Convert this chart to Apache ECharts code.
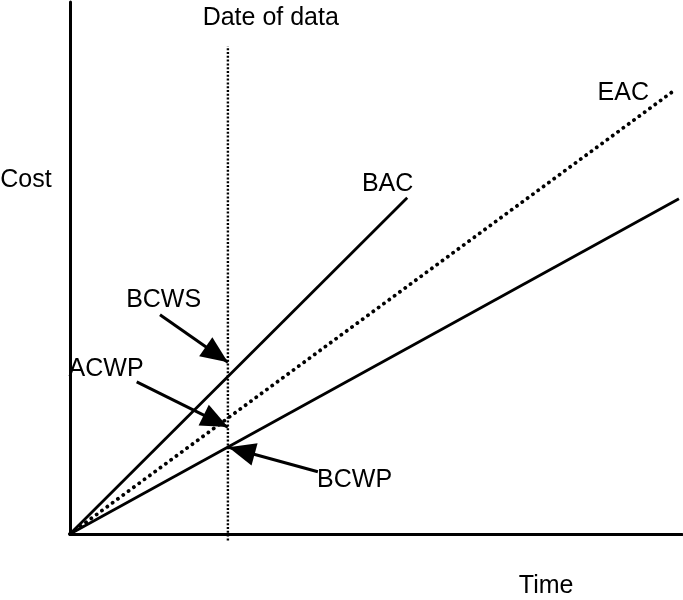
<!DOCTYPE html>
<html>
<head>
<meta charset="utf-8">
<script src="https://cdn.jsdelivr.net/npm/echarts@6/dist/echarts.min.js"></script>
<style>html,body{margin:0;padding:0;background:#fff}#c{width:683px;height:600px}</style>
</head>
<body>
<div id="c"></div>
<script>
// Lines from origin: [time, cost]
const bacLine = [[0, 0], [55.1, 63.2]];
const eacLine = [[0, 0], [99.0, 83.6]];
const bcwpLine = [[0, 0], [99.5, 63.0]];
const dateLine = [[25.8, -1.2], [25.8, 91.7]];
// Arrows: [tail, tip]
const arrowBCWS = [[14.7, 41.2], [25.8, 32.3]];
const arrowACWP = [[10.9, 28.6], [25.8, 20.1]];
const arrowBCWP = [[40.5, 11.7], [25.9, 16.3]];
const arrows = [arrowBCWS, arrowACWP, arrowBCWP];
// Text labels: [x, y, text]
const labels = [
  [32.8, 97.0, 'Date of data'],
  [-7.2, 66.5, 'Cost'],
  [77.8, -9.8, 'Time'],
  [51.9, 65.8, 'BAC'],
  [90.4, 82.9, 'EAC'],
  [15.3, 44.0, 'BCWS'],
  [5.9, 31.0, 'ACWP'],
  [46.5, 10.2, 'BCWP']
];

const FONT = "'Liberation Sans Narrow','Arial Narrow','Liberation Sans',sans-serif";
const HEAD = [23, 27];

const chart = echarts.init(document.getElementById('c'));
function build(headData) {
  return {
    animation: false,
    grid: {left: 70, right: 1, top: 2, bottom: 66},
    xAxis: {type: 'value', min: 0, max: 100,
      axisLine: {show: true, onZero: false, lineStyle: {color: '#000', width: 3}},
      axisTick: {show: false}, axisLabel: {show: false}, splitLine: {show: false}},
    yAxis: {type: 'value', min: 0, max: 100,
      axisLine: {show: true, onZero: false, lineStyle: {color: '#000', width: 3}},
      axisTick: {show: false}, axisLabel: {show: false}, splitLine: {show: false}},
    series: [
      {type: 'line', data: bacLine, symbol: 'none', clip: false,
        lineStyle: {color: '#000', width: 2.8}},
      {type: 'line', data: eacLine, symbol: 'none', clip: false,
        lineStyle: {color: '#000', width: 3.8, type: [0.1, 6.5], cap: 'round'}},
      {type: 'line', data: bcwpLine, symbol: 'none', clip: false,
        lineStyle: {color: '#000', width: 2.8}},
      {type: 'line', data: dateLine, symbol: 'none', clip: false,
        lineStyle: {color: '#000', width: 2.4, type: [2, 1.8]}},
      {type: 'lines', coordinateSystem: 'cartesian2d', clip: false,
        symbol: 'none',
        lineStyle: {color: '#000', width: 3, opacity: 1, curveness: 0},
        data: arrows.map(a => ({coords: a}))},
      {type: 'scatter', clip: false, symbol: 'triangle', symbolSize: HEAD,
        itemStyle: {color: '#000', opacity: 1},
        data: headData},
      {type: 'scatter', symbolSize: 0, clip: false,
        itemStyle: {opacity: 1},
        data: labels.map(l => ({value: [l[0], l[1]], name: l[2]})),
        label: {show: true, position: 'inside', formatter: p => p.name,
          color: '#000', opacity: 1, fontSize: 25, fontFamily: FONT}}
    ]
  };
}
chart.setOption(build([]));
const heads = arrows.map(a => {
  const p0 = chart.convertToPixel({gridIndex: 0}, a[0]);
  const p1 = chart.convertToPixel({gridIndex: 0}, a[1]);
  const dx = p1[0] - p0[0], dy = p1[1] - p0[1];
  const len = Math.hypot(dx, dy);
  const ux = dx / len, uy = dy / len;
  const rot = Math.atan2(-dx, -dy) * 180 / Math.PI;
  return {value: a[1], symbolRotate: rot,
    symbolOffset: [-ux * HEAD[1] / 2, -uy * HEAD[1] / 2]};
});
chart.setOption(build(heads));
</script>
</body>
</html>
